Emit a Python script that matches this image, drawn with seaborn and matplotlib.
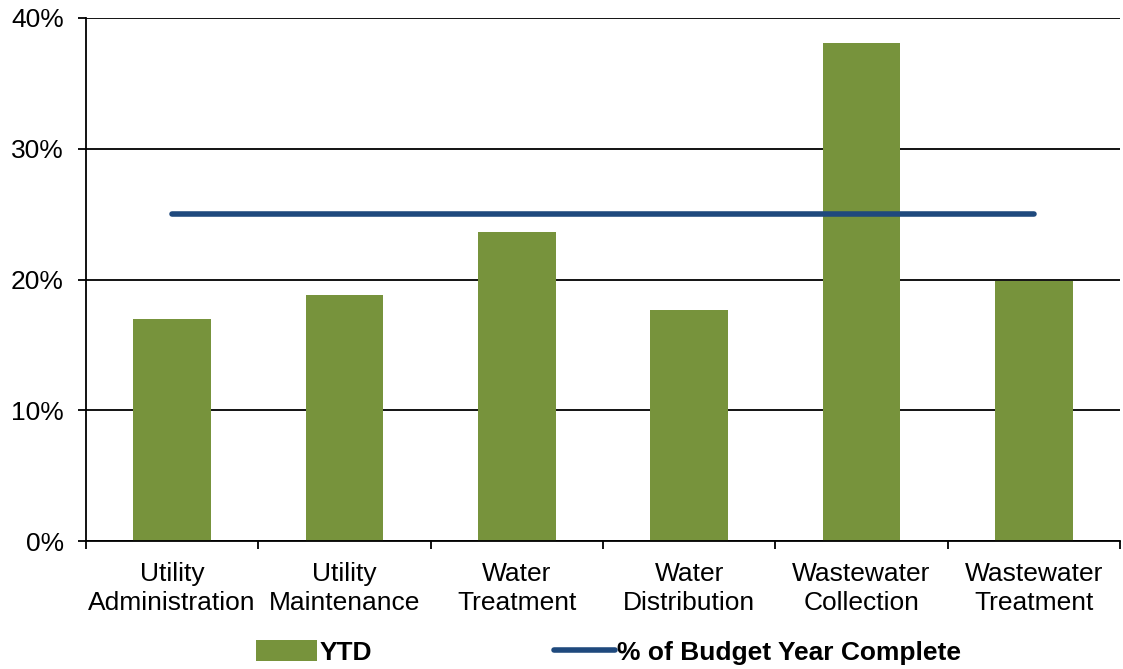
import matplotlib
matplotlib.use("Agg")
import matplotlib.pyplot as plt
import seaborn as sns
import numpy as np
from matplotlib.patches import Patch
from matplotlib.lines import Line2D
from matplotlib.ticker import FixedLocator, PercentFormatter

categories = ["Utility\nAdministration", "Utility\nMaintenance", "Water\nTreatment",
              "Water\nDistribution", "Wastewater\nCollection", "Wastewater\nTreatment"]
ytd = [17.0, 18.8, 23.6, 17.7, 38.1, 19.9]
budget_complete = [25, 25, 25, 25, 25, 25]
y_ticks = [0, 10, 20, 30, 40]

sns.set_style("white")
plt.rcParams['font.family'] = ['Liberation Sans', 'DejaVu Sans']
plt.rcParams['text.color'] = 'black'
plt.rcParams['xtick.color'] = 'black'
plt.rcParams['ytick.color'] = 'black'

fig = plt.figure(figsize=(11.23, 6.69), dpi=100)
ax = fig.add_axes([0.0766, 0.1913, 0.9207, 0.7818])

bar_color = "#77933C"
line_color = "#1F497D"

sns.barplot(x=categories, y=ytd, color=bar_color, width=0.45, saturation=1,
            linewidth=0, ax=ax, zorder=2)
sns.lineplot(x=np.arange(len(categories)), y=budget_complete, color=line_color,
             linewidth=4, ax=ax, zorder=3, solid_capstyle='round')

ax.set_ylim(0, 40)
ax.set_xlim(-0.5, len(categories) - 0.5)
ax.set_yticks(y_ticks)
ax.yaxis.set_major_formatter(PercentFormatter(decimals=0))
ax.grid(axis='y', color='black', linewidth=1.3, zorder=0)
ax.set_axisbelow(True)

for s in ['top', 'right']:
    ax.spines[s].set_visible(False)
for s in ['left', 'bottom']:
    ax.spines[s].set_color('black')
    ax.spines[s].set_linewidth(1.3)

ax.tick_params(axis='y', which='major', direction='out', length=6, width=1.3,
               color='black', labelsize=19, left=True, pad=10, labelcolor='black')
ax.tick_params(axis='x', which='major', length=0, labelsize=19, pad=15,
               labelcolor='black')
ax.xaxis.set_minor_locator(FixedLocator(np.arange(-0.5, len(categories), 1.0)))
ax.tick_params(axis='x', which='minor', direction='out', length=6, width=1.3,
               color='black', bottom=True)
for lbl in ax.get_xticklabels():
    lbl.set_linespacing(1.25)

handles = [Patch(facecolor=bar_color, edgecolor='none', label='YTD'),
           Line2D([0], [0], color=line_color, linewidth=4, label='% of Budget Year Complete')]
leg = fig.legend(handles=handles, loc='center', bbox_to_anchor=(0.542, 0.0245),
                 ncol=2, frameon=False, handlelength=2.3, handleheight=0.8,
                 handletextpad=0.1, columnspacing=6.9, borderpad=0,
                 prop={'weight': 'bold', 'size': 19})

fig.savefig("out.png", dpi=100)
